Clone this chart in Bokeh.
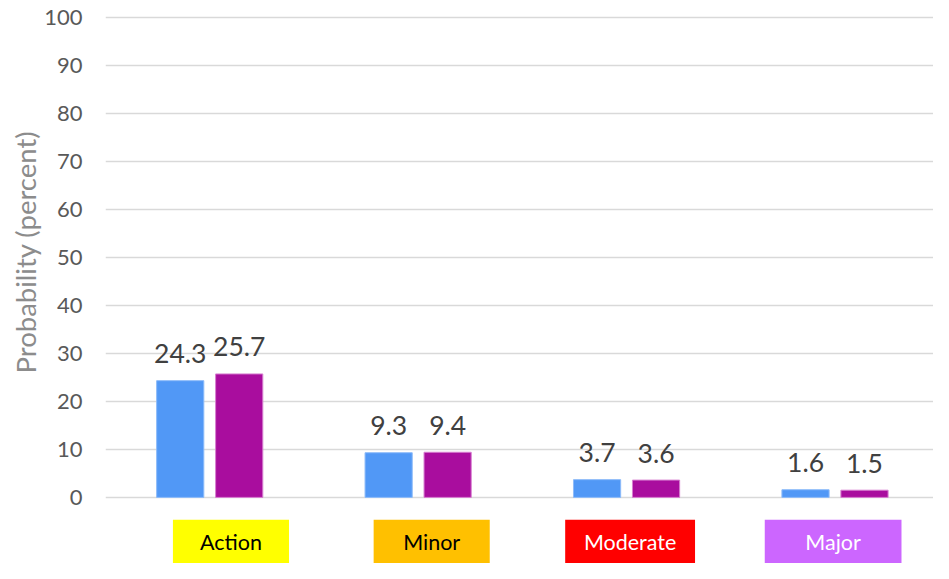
from bokeh.plotting import figure
from bokeh.models import ColumnDataSource, FixedTicker, Range1d, Title
from bokeh.core.properties import value
from bokeh.embed import file_html
from bokeh.resources import INLINE

# ---- data ----
categories = ["Action", "Minor", "Moderate", "Major"]
series_a = [24.3, 9.3, 3.7, 1.6]
series_b = [25.7, 9.4, 3.6, 1.5]
y_ticks = [0, 10, 20, 30, 40, 50, 60, 70, 80, 90, 100]

# ---- styling ----
box_colors = ["#FFFF00", "#FFC000", "#FF0000", "#CC66FF"]
box_text_colors = ["#000000", "#000000", "#FFFFFF", "#FFFFFF"]
box_shift = [0.102, 0.065, 0.017, -0.009]
box_width = [0.557, 0.557, 0.623, 0.656]
blue = "#5198F6"
purple = "#A90D9E"
FONT = "Lato"

centers = [i + 0.5 for i in range(len(categories))]
dodge = 0.1415
bw = 0.2264

p = figure(width=933, height=563, output_backend="svg", toolbar_location=None,
           x_range=Range1d(0, 3.9726), y_range=Range1d(-13.76, 103.44),
           min_border_left=105, min_border_right=0, min_border_top=0, min_border_bottom=0)
p.outline_line_color = None
p.background_fill_color = "white"
p.border_fill_color = "white"
p.xgrid.grid_line_color = None
p.xaxis.visible = False
p.ygrid.grid_line_color = "#D9D9D9"
p.ygrid.grid_line_width = 1.6
p.yaxis.ticker = FixedTicker(ticks=y_ticks)
p.yaxis.axis_line_color = None
p.yaxis.major_tick_line_color = None
p.yaxis.minor_tick_line_color = None
p.yaxis.major_tick_out = 0
p.yaxis.major_tick_in = 0
p.yaxis.major_label_standoff = 23
p.yaxis.major_label_text_font = FONT
p.yaxis.major_label_text_font_size = "22px"
p.yaxis.major_label_text_color = "#595959"

src = ColumnDataSource(dict(
    cat=categories,
    xa=[c - dodge for c in centers],
    xb=[c + dodge for c in centers],
    a=series_a, b=series_b,
    la=[f"{v:.1f}" for v in series_a],
    lb=[f"{v:.1f}" for v in series_b],
    bx=[c + s for c, s in zip(centers, box_shift)],
    bwid=box_width, bcol=box_colors, tcol=box_text_colors,
))

p.vbar(x="xa", top="a", bottom=0, width=bw, source=src, fill_color=blue,
       line_color="#8DBBF9", line_width=1)
p.vbar(x="xb", top="b", bottom=0, width=bw, source=src, fill_color=purple,
       line_color="#D77FD0", line_width=1)

p.text(x="xa", y="a", text="la", source=src, text_align="center",
       text_baseline="alphabetic", y_offset=-27, text_font=value(FONT),
       text_font_size="26.5px", text_color="#404040")
p.text(x="xb", y="b", text="lb", source=src, text_align="center",
       text_baseline="alphabetic", y_offset=-27, text_font=value(FONT),
       text_font_size="26.5px", text_color="#404040")

# category label boxes
p.quad(left=[x - w / 2 for x, w in zip(src.data["bx"], box_width)],
       right=[x + w / 2 for x, w in zip(src.data["bx"], box_width)],
       top=-4.64, bottom=-16, fill_color=box_colors, line_color=None)
p.text(x="bx", y=-10.93, text="cat", source=src, text_align="center",
       text_baseline="alphabetic", y_offset=-8, text_font=value(FONT),
       text_font_size="21.5px", text_color="tcol")

p.add_layout(Title(text="Probability (percent)", align="left", offset=190,
                   text_font=FONT, text_font_size="27.5px", text_font_style="normal",
                   text_color="#8C8C8C", standoff=0), "left")

open("out.html", "w").write(file_html(p, INLINE))
